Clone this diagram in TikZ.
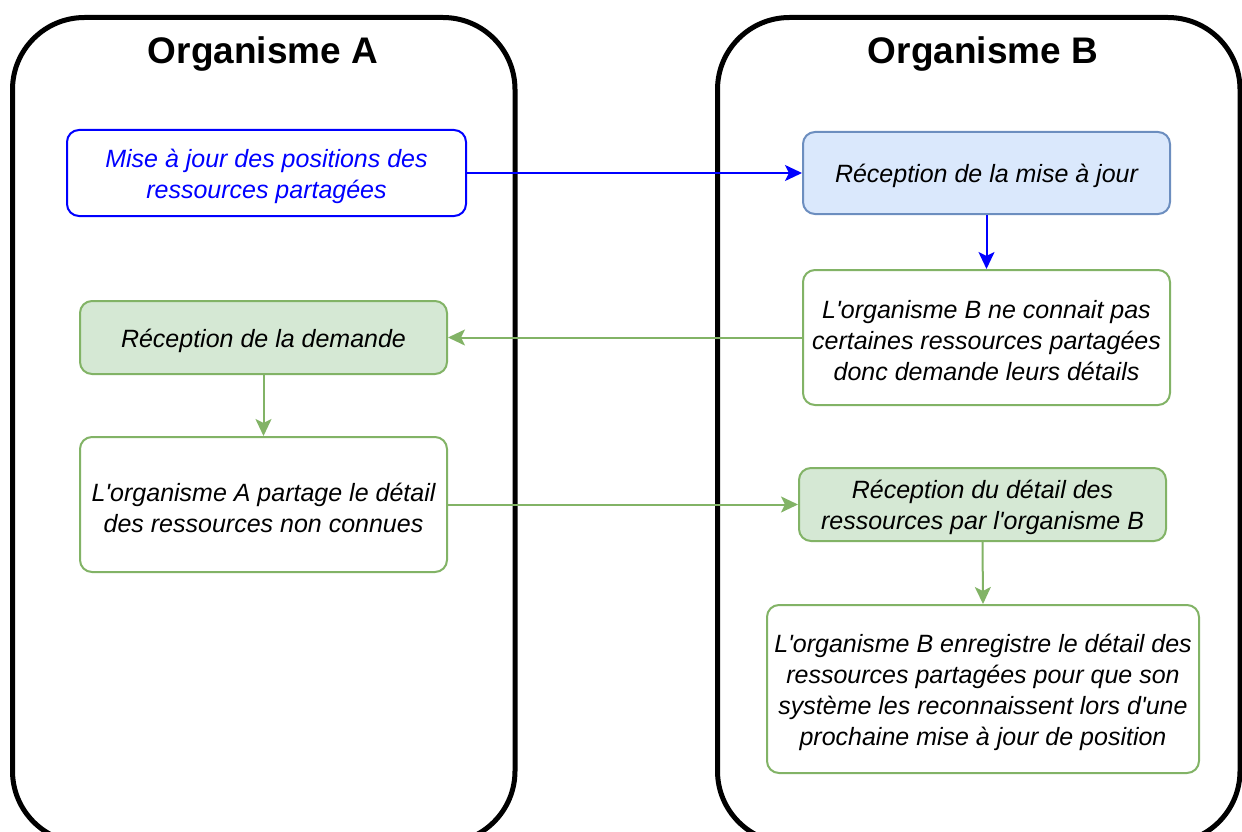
\documentclass[tikz,border=0pt]{standalone}
\usepackage{fontspec}
\setmainfont{Liberation Sans}
\usetikzlibrary{arrows.meta}
\definecolor{bluefill}{HTML}{DAE8FC}
\definecolor{bluestroke}{HTML}{6C8EBF}
\definecolor{greenfill}{HTML}{D5E8D4}
\definecolor{greenstroke}{HTML}{82B366}
\definecolor{pureblue}{HTML}{0000FF}
\newcommand\ap{\textquotesingle}
\tikzset{
  container/.style={draw=black, line width=5pt, rounded corners=72pt, line join=round},
  title/.style={font=\fontsize{37}{44}\selectfont\bfseries, text=black},
  box/.style={rectangle, rounded corners=12pt, line width=2pt, inner sep=0pt},
  lbl/.style={align=center, font=\fontsize{25}{31}\selectfont\itshape, inner sep=0pt, text=black},
  bluebox/.style={box, draw=pureblue, fill=white},
  recvblue/.style={box, draw=bluestroke, fill=bluefill},
  greenbox/.style={box, draw=greenstroke, fill=greenfill},
  whitebox/.style={box, draw=greenstroke, fill=white},
  bluearrow/.style={draw=pureblue, line width=2pt, -{Stealth[length=17pt,width=16pt,inset=4pt]}},
  greenarrow/.style={draw=greenstroke, line width=2pt, -{Stealth[length=17pt,width=16pt,inset=4pt]}},
}
\begin{document}
\begin{tikzpicture}[x=1pt,y=-1pt]
\useasboundingbox (0,0) rectangle (1242,832);
\begin{scope}
\clip (0,0) rectangle (1242,832);
\draw[container] (12.5,400) -- (12.5,17.5) -- (515,17.5) -- (515,843) -- (12.5,843) -- cycle;
\draw[container] (717.5,400) -- (717.5,17.5) -- (1240,17.5) -- (1240,843) -- (717.5,843) -- cycle;
\end{scope}
\node[title] (tA) at (263,54) {Organisme A};
\node[title] (tB) at (983,54) {Organisme B};

\node[bluebox, minimum width=399pt, minimum height=86pt] (b1) at (266.5,173) {};
\node[recvblue, minimum width=367pt, minimum height=82pt] (b2) at (986.5,173) {};
\node[whitebox, minimum width=367pt, minimum height=135pt] (b3) at (986.5,337.5) {};
\node[greenbox, minimum width=367pt, minimum height=73pt] (b4) at (263.5,337.5) {};
\node[whitebox, minimum width=367pt, minimum height=135pt] (b5) at (263.5,504.5) {};
\node[greenbox, minimum width=367pt, minimum height=73pt] (b6) at (982.5,504.5) {};
\node[whitebox, minimum width=432pt, minimum height=168pt] (b7) at (983,689) {};

\node[lbl, text=pureblue] (t1) at ([yshift=-3pt]b1.center) {Mise à jour des positions des\\ressources partagées};
\node[lbl] (t2) at ([yshift=-3pt]b2.center) {Réception de la mise à jour};
\node[lbl] (t3) at ([yshift=-3pt]b3.center) {L\ap organisme B ne connait pas\\certaines ressources partagées\\donc demande leurs détails};
\node[lbl] (t4) at ([yshift=-3pt]b4.center) {Réception de la demande};
\node[lbl] (t5) at ([yshift=-3pt]b5.center) {L\ap organisme A partage le détail\\des ressources non connues};
\node[lbl] (t6) at ([yshift=-3pt]b6.center) {Réception du détail des\\ressources par l\ap organisme B};
\node[lbl] (t7) at ([yshift=-3pt]b7.center) {L\ap organisme B enregistre le détail des\\ressources partagées pour que son\\système les reconnaissent lors d\ap une\\prochaine mise à jour de position};

\draw[bluearrow] (b1.east) -- (b2.west);
\draw[bluearrow] (b2.south) -- (b3.north);
\draw[greenarrow] (b3.west) -- (b4.east);
\draw[greenarrow] (b4.south) -- (b5.north);
\draw[greenarrow] (b5.east) -- (b6.west);
\draw[greenarrow] (b6.south) -- (b7.north);
\end{tikzpicture}
\end{document}
